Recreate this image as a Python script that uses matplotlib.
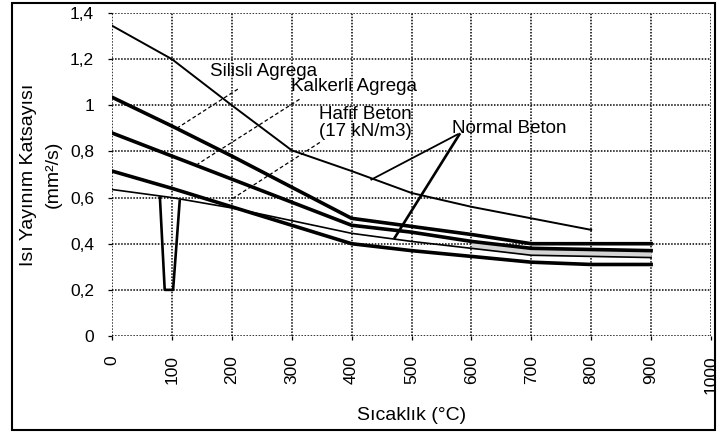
import matplotlib
matplotlib.use('Agg')
import matplotlib.pyplot as plt
from matplotlib.patches import Rectangle

plt.rcParams['font.family'] = ['Liberation Sans', 'DejaVu Sans']

# ---- data ----
temps_top = [0, 100, 200, 300, 400, 500, 600, 700, 800]
normal_upper = [1.345, 1.2, 1.0, 0.805, 0.715, 0.62, 0.56, 0.51, 0.46]

temps = [0, 100, 200, 300, 400, 500, 600, 700, 800, 900]
silisli = [1.035, 0.91, 0.78, 0.645, 0.51, 0.475, 0.44, 0.40, 0.40, 0.40]
kalkerli = [0.88, 0.78, 0.68, 0.58, 0.48, 0.45, 0.41, 0.38, 0.375, 0.37]
normal_lower = [0.635, 0.60, 0.555, 0.50, 0.445, 0.41, 0.38, 0.35, 0.345, 0.34]
hafif = [0.715, 0.64, 0.56, 0.48, 0.40, 0.37, 0.345, 0.32, 0.31, 0.31]

dip_t = [80, 88, 102, 113]
dip_v = [0.60, 0.20, 0.20, 0.585]

x_ticks = [0, 100, 200, 300, 400, 500, 600, 700, 800, 900, 1000]
y_ticks = [0, 0.2, 0.4, 0.6, 0.8, 1.0, 1.2, 1.4]
y_labels = ['0', '0,2', '0,4', '0,6', '0,8', '1', '1,2', '1,4']

W, H = 717, 433
fig = plt.figure(figsize=(W / 100, H / 100), dpi=100)
ax = fig.add_axes([112 / W, (H - 336) / H, (711 - 112) / W, (336 - 13) / H])

# grey band between lower curves at high temperature
band_t = [t for t in temps if t >= 600]
band_lo = [v for t, v in zip(temps, normal_lower) if t >= 600]
band_hi = [v for t, v in zip(temps, kalkerli) if t >= 600]
ax.fill_between(band_t, band_lo, band_hi, color='#d4d4d4', lw=0, zorder=1)

ax.plot(temps_top, normal_upper, color='black', lw=1.4, zorder=3)
ax.plot(temps, silisli, color='black', lw=2.6, zorder=3)
ax.plot(temps, kalkerli, color='black', lw=2.6, zorder=3)
ax.plot(temps, normal_lower, color='black', lw=1.2, zorder=3)
ax.plot(temps, hafif, color='black', lw=2.6, zorder=3)
ax.plot(dip_t, dip_v, color='black', lw=1.9, zorder=3)

ax.set_xlim(0, 1000)
ax.set_ylim(0, 1.4)
ax.set_xticks(x_ticks)
ax.set_xticklabels([str(t) for t in x_ticks], rotation=90, fontsize=12.5)
ax.set_yticks(y_ticks)
ax.set_yticklabels(y_labels, fontsize=12.5)
ax.tick_params(axis='both', length=3, width=0.9, color='black')
ax.tick_params(axis='y', pad=10)
ax.tick_params(axis='x', pad=11)
for s in ax.spines.values():
    s.set_visible(False)
ax.grid(True, color='black', linestyle=(0, (1, 1)), lw=1.1)
ax.set_axisbelow(True)

ax.set_xlabel('Sıcaklık (°C)', fontsize=14, labelpad=9)
ax.set_ylabel('Isı Yayınım Katsayısı\n(mm²/s)', fontsize=14, labelpad=6,
              linespacing=1.6)

# annotations
fs = 13.5
ax.text(163, 1.148, 'Silisli Agrega', fontsize=fs, va='center', ha='left')
ax.text(298, 1.083, 'Kalkerli Agrega', fontsize=fs, va='center', ha='left')
ax.text(423, 0.925, 'Hafif Beton\n(17 kN/m3)', fontsize=fs, va='center',
        ha='center', linespacing=1.0)
ax.text(663, 0.90, 'Normal Beton', fontsize=fs, va='center', ha='center')

ax.plot([210, 108], [1.07, 0.90], color='black', lw=0.9, ls=(0, (3, 2)), zorder=4)
ax.plot([313, 143], [1.026, 0.745], color='black', lw=0.9, ls=(0, (3, 2)), zorder=4)
ax.plot([347, 195], [0.839, 0.585], color='black', lw=0.9, ls=(0, (3, 2)), zorder=4)
ax.plot([577, 433], [0.874, 0.678], color='black', lw=1.3, zorder=4)
ax.plot([580, 472], [0.874, 0.426], color='black', lw=1.9, zorder=4)

# outer frame
fig.patches.append(Rectangle((12 / W, 3 / H), (715 - 12) / W, (430 - 3) / H,
                             transform=fig.transFigure, fill=False,
                             edgecolor='black', lw=1.5))

fig.savefig('out.png', dpi=100)
